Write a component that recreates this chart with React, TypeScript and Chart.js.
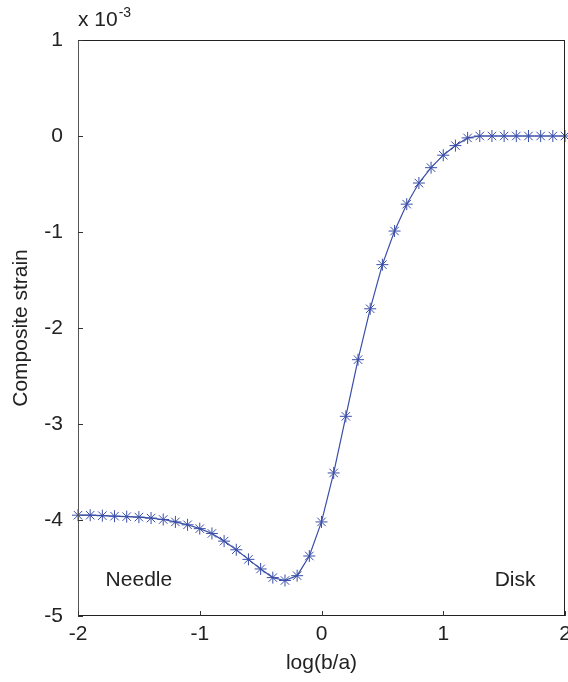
import React, { useEffect, useRef } from "react";
import { Chart, registerables } from "chart.js";

Chart.register(...registerables);

const logRatio = [
  -2.0, -1.9, -1.8, -1.7, -1.6, -1.5, -1.4, -1.3, -1.2, -1.1, -1.0,
  -0.9, -0.8, -0.7, -0.6, -0.5, -0.4, -0.3, -0.2, -0.1, 0.0,
  0.1, 0.2, 0.3, 0.4, 0.5, 0.6, 0.7, 0.8, 0.9, 1.0,
  1.1, 1.2, 1.3, 1.4, 1.5, 1.6, 1.7, 1.8, 1.9, 2.0,
];

// composite strain in units of 1e-3
const strain = [
  -3.95, -3.95, -3.955, -3.96, -3.965, -3.97, -3.98, -3.995, -4.02, -4.05, -4.09,
  -4.14, -4.22, -4.31, -4.41, -4.51, -4.6, -4.63, -4.58, -4.375, -4.02,
  -3.51, -2.92, -2.33, -1.8, -1.34, -0.99, -0.71, -0.49, -0.33, -0.2,
  -0.1, -0.02, 0, 0, 0, 0, 0, 0, 0, 0,
];

const xTicks = [-2, -1, 0, 1, 2];
const yTicks = [-5, -4, -3, -2, -1, 0, 1];

const annotations = [
  { text: "Needle", x: -1.5, y: -4.625 },
  { text: "Disk", x: 1.59, y: -4.625 },
];

const FONT = "'Liberation Sans', Arial, Helvetica, sans-serif";
const FS = 21;
const LINE_COLOR = "rgb(58,78,168)";

const boxPlugin = {
  id: "boxPlugin",
  afterDraw(chart: any) {
    const { ctx, chartArea } = chart;
    const { left, right, top, bottom } = chartArea;
    const xs = chart.scales.x;
    const ys = chart.scales.y;
    ctx.save();
    ctx.lineWidth = 1;
    ctx.strokeStyle = "#222";
    ctx.beginPath();
    ctx.moveTo(left, top + 0.5);
    ctx.lineTo(right, top + 0.5);
    ctx.moveTo(right - 0.5, top);
    ctx.lineTo(right - 0.5, bottom);
    ctx.moveTo(left, bottom - 0.5);
    ctx.lineTo(right, bottom - 0.5);
    ctx.stroke();
    ctx.strokeStyle = "#555";
    ctx.beginPath();
    ctx.moveTo(left + 0.5, top);
    ctx.lineTo(left + 0.5, bottom);
    ctx.stroke();
    ctx.strokeStyle = "#333";
    ctx.beginPath();
    yTicks.forEach((v) => {
      const py = Math.round(ys.getPixelForValue(v)) + 0.5;
      ctx.moveTo(left, py);
      ctx.lineTo(left + 5, py);
    });
    xTicks.forEach((v) => {
      const px = Math.round(xs.getPixelForValue(v)) + 0.5;
      ctx.moveTo(px, bottom);
      ctx.lineTo(px, bottom - 5);
    });
    ctx.stroke();
    ctx.fillStyle = "#222";
    ctx.font = `${FS}px ${FONT}`;
    ctx.textAlign = "center";
    ctx.textBaseline = "middle";
    annotations.forEach((a) => {
      ctx.fillText(a.text, xs.getPixelForValue(a.x), ys.getPixelForValue(a.y));
    });
    ctx.textAlign = "left";
    ctx.textBaseline = "alphabetic";
    ctx.font = `${FS}px ${FONT}`;
    const base = "x 10";
    ctx.fillText(base, left, 26);
    const w = ctx.measureText(base).width;
    ctx.font = `14px ${FONT}`;
    ctx.fillText("-3", left + w + 1, 17);
    ctx.restore();
  },
};

export default function App() {
  const ref = useRef<HTMLCanvasElement>(null);

  useEffect(() => {
    if (!ref.current) return;
    const chart = new Chart(ref.current, {
      type: "line",
      data: {
        datasets: [
          {
            data: logRatio.map((x, i) => ({ x, y: strain[i] })),
            borderColor: LINE_COLOR,
            backgroundColor: LINE_COLOR,
            borderWidth: 1.2,
            pointStyle: "star",
            pointRadius: 6,
            pointBorderWidth: 1,
            pointBorderColor: LINE_COLOR,
            tension: 0,
            clip: false as any,
          },
        ],
      },
      options: {
        animation: false,
        responsive: true,
        maintainAspectRatio: false,
        layout: {
          autoPadding: false,
          padding: { top: 40, right: 3, left: 0, bottom: 0 },
        },
        plugins: {
          legend: { display: false },
          tooltip: { enabled: false },
        },
        scales: {
          x: {
            type: "linear",
            min: -2,
            max: 2,
            afterFit: (s: any) => {
              s.height = 66;
              s.paddingLeft = 0;
              s.paddingRight = 0;
            },
            afterBuildTicks: (s: any) => {
              s.ticks = xTicks.map((v) => ({ value: v }));
            },
            grid: { display: false, drawTicks: false },
            border: { display: false },
            ticks: {
              padding: 6,
              color: "#222",
              font: { family: FONT, size: FS },
              maxRotation: 0,
              autoSkip: false,
            },
            title: {
              display: true,
              text: "log(b/a)",
              color: "#222",
              font: { family: FONT, size: FS },
              padding: { top: 0, bottom: 6 },
            },
          },
          y: {
            type: "linear",
            min: -5,
            max: 1,
            afterFit: (s: any) => {
              s.width = 78;
              s.paddingTop = 0;
              s.paddingBottom = 0;
            },
            afterBuildTicks: (s: any) => {
              s.ticks = yTicks.map((v) => ({ value: v }));
            },
            grid: { display: false, drawTicks: false },
            border: { display: false },
            ticks: {
              padding: 15,
              color: "#222",
              font: { family: FONT, size: FS },
              autoSkip: false,
            },
            title: {
              display: true,
              text: "Composite strain",
              color: "#222",
              font: { family: FONT, size: FS },
              padding: { top: 9, bottom: 0 },
            },
          },
        },
      },
      plugins: [boxPlugin],
    });
    return () => chart.destroy();
  }, []);

  return (
    <div
      style={{
        position: "fixed",
        left: 0,
        top: 0,
        width: 568,
        height: 682,
        background: "#fff",
      }}
    >
      <canvas ref={ref} />
    </div>
  );
}
